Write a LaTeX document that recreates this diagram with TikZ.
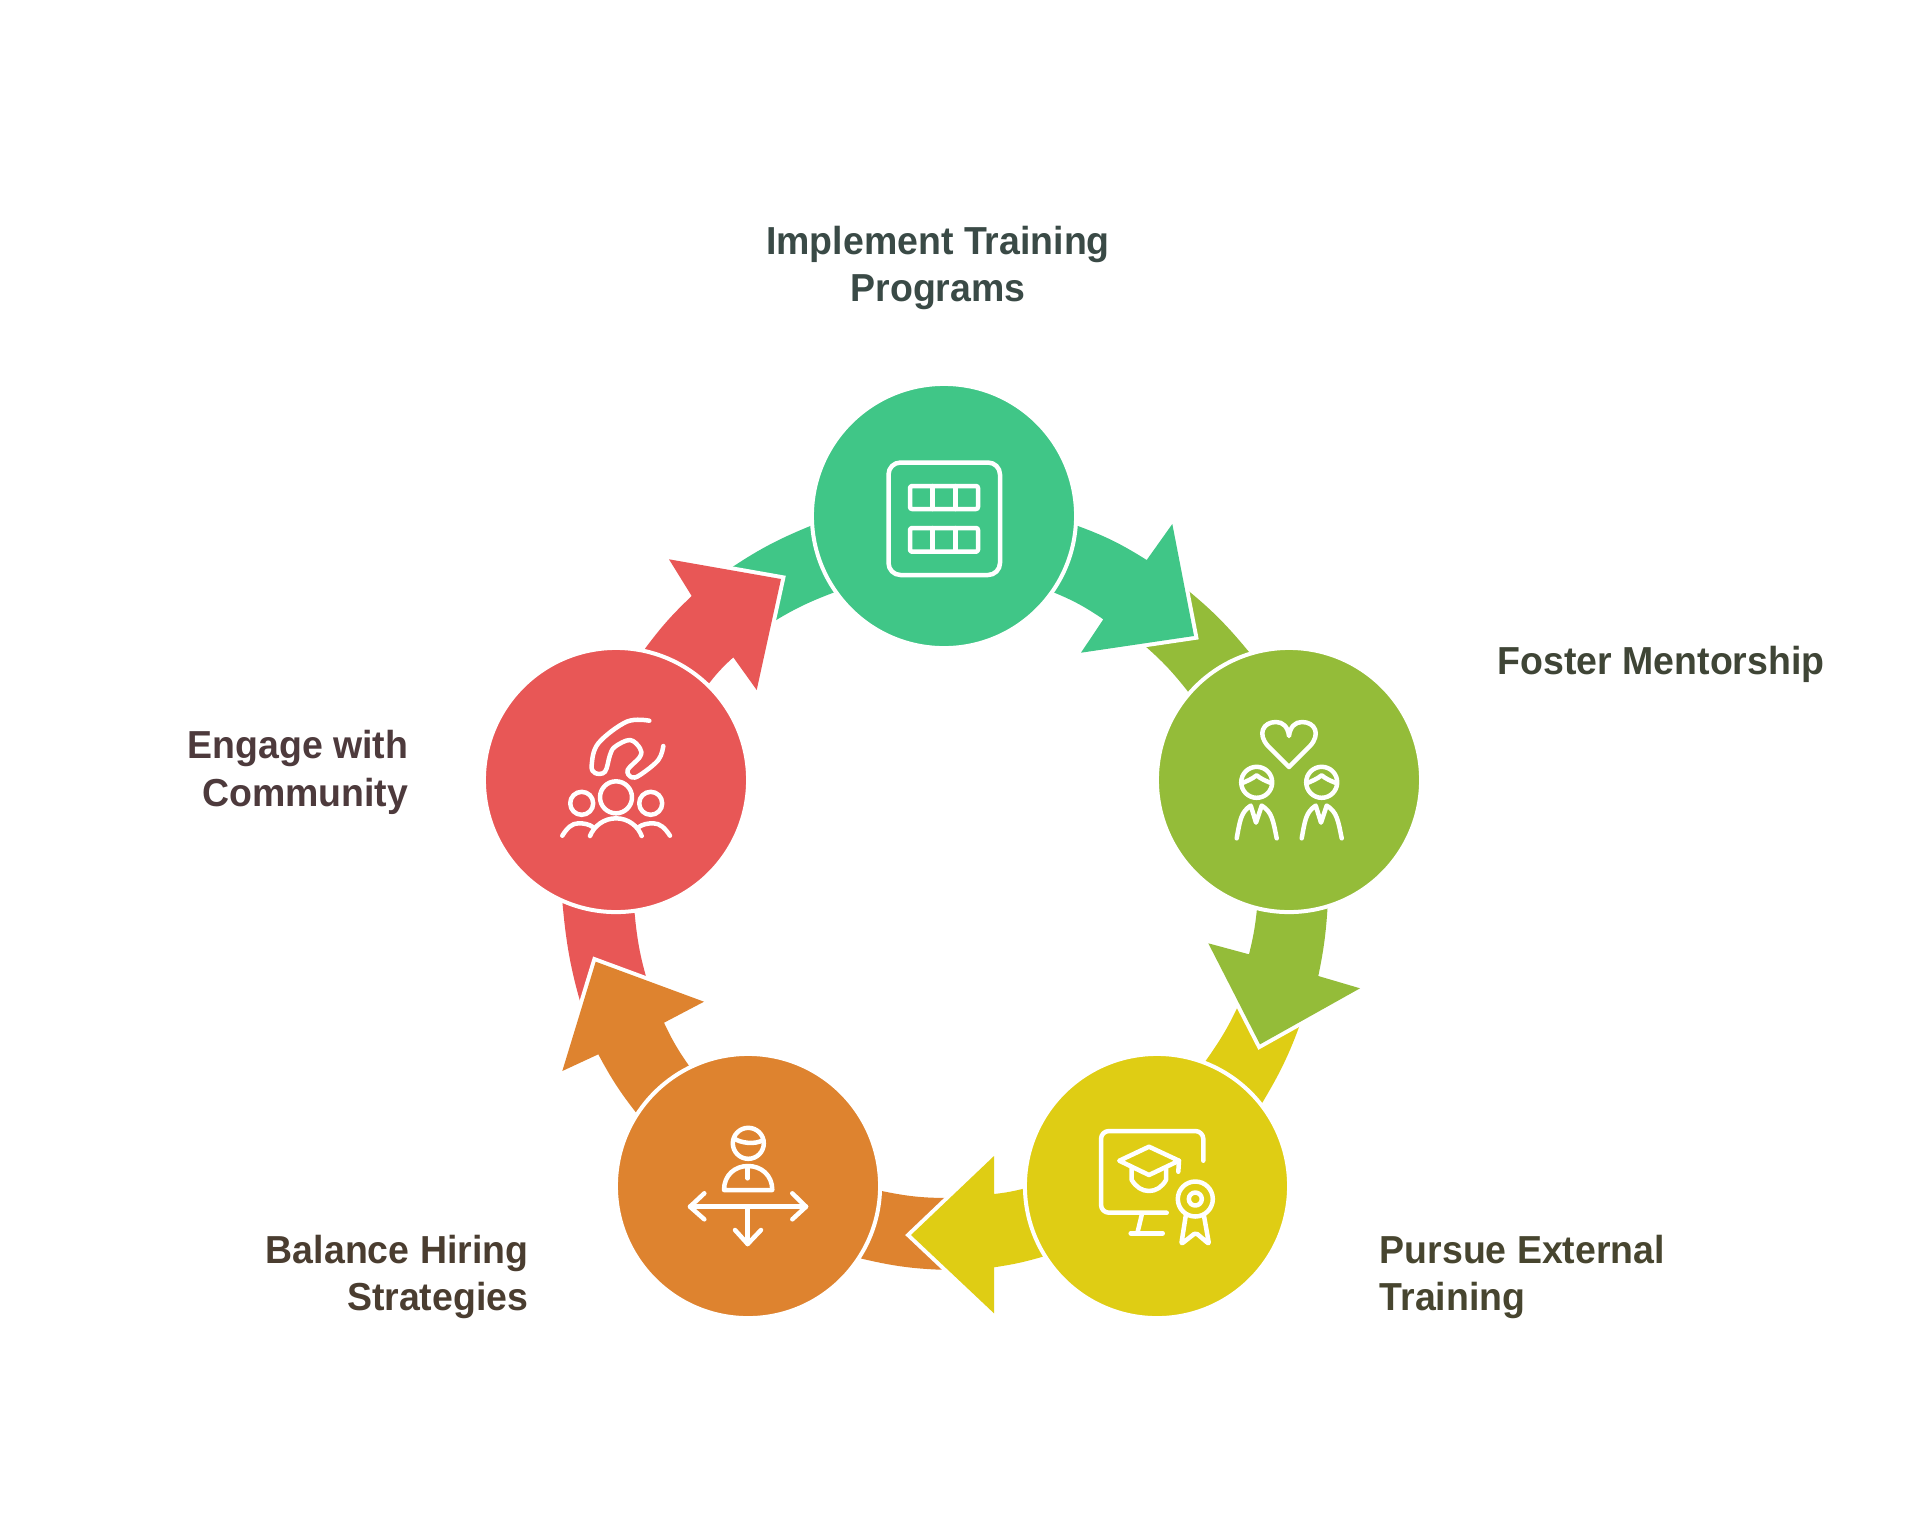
\documentclass[tikz,border=0pt]{standalone}
\usepackage{fontspec}
\setmainfont[FakeStretch=0.96]{Liberation Sans}
\usetikzlibrary{backgrounds}

\definecolor{trainGreen}{HTML}{40C687}
\definecolor{mentorOlive}{HTML}{94BC39}
\definecolor{externalYellow}{HTML}{DFCD14}
\definecolor{hiringOrange}{HTML}{DE832F}
\definecolor{communityRed}{HTML}{E85756}

\tikzset{
  stage/.style={circle,fill=#1,draw=white,line width=0.04cm,minimum size=2.64cm,inner sep=0pt,outer sep=0pt},
  band/.style={fill=#1,preaction={draw=white,line width=0.08cm,line join=miter}},
  icon/.style={draw=white,line width=0.045cm,line cap=round,line join=round},
  caption/.style={inner sep=0pt,font=\bfseries\fontsize{11.1pt}{13.5pt}\selectfont}
}

\begin{document}
\begin{tikzpicture}[x=0.01cm,y=-0.01cm]
  \useasboundingbox (0,0) rectangle (1912,1536);

  % The five stages
  \node[stage=trainGreen] (train) at (944,516) {};
  \node[stage=mentorOlive] (mentor) at (1289,780) {};
  \node[stage=externalYellow] (external) at (1157,1186) {};
  \node[stage=hiringOrange] (hiring) at (748,1186) {};
  \node[stage=communityRed] (community) at (616,780) {};

  \begin{pgfonlayer}{background}
    % Tails coming out of the back of each stage
    \path[band=trainGreen] (725,572) to[bend left=6] (train.184.8) -- (train.215.7) to[bend right=6] (765,627) -- cycle;
    \path[band=mentorOlive] (1180,584) to[bend left=6] (mentor.107.8) -- (mentor.139) to[bend right=6] (1138,640) -- cycle;
    \path[band=externalYellow] (1304,1013) to[bend left=6] (external.38.8) -- (external.69.7) to[bend right=6] (1243,995) -- cycle;
    \path[band=hiringOrange] (950,1270) to[bend left=6] (hiring.-33.8) -- (hiring.-2.9) to[bend right=6] (950,1198) -- cycle;
    \path[band=communityRed] (585,1018) to[bend left=6] (community.-114.3) -- (community.-82.6) to[bend right=6] (650,990) -- cycle;

    % Arrows going on to the next stage
    \path[band=trainGreen] (train.-4.6) to[bend left=6] (1146.7,560) -- (1172.3,524) -- (1194,636) -- (1081,652.7) -- (1103.3,619.3) to[bend right=6] (train.-35.5) -- cycle;
    \path[band=mentorOlive] (mentor.-73.5) to[bend left=4] (1318.3,976) -- (1360,988.3) -- (1260,1044.3) -- (1208.3,943.3) -- (1249,954.3) to[bend right=4] (mentor.-104.7) -- cycle;
    \path[band=externalYellow] (external.-148.3) to[bend left=4] (994,1267.3) -- (994,1313.3) -- (911,1235) -- (994,1156) -- (994,1194) to[bend right=4] (external.181) -- cycle;
    \path[band=hiringOrange] (hiring.147.2) to[bend left=5] (598.3,1054.3) -- (562.3,1071) -- (595.7,961.7) -- (704,1001.7) -- (664,1022.7) to[bend right=5] (hiring.116.4) -- cycle;
    \path[band=communityRed] (community.78.3) to[bend left=5] (691.7,596) -- (669,559.3) -- (781,579) -- (756.7,690) -- (733.3,657.3) to[bend right=5] (community.46.8) -- cycle;
  \end{pgfonlayer}

  % Icon: table in a frame
  \draw[icon,rounded corners=0.12cm] (888.5,462.5) rectangle (1000,575);
  \draw[icon,rounded corners=0.02cm] (910,486) rectangle (978,509);
  \draw[icon,rounded corners=0.02cm] (910,528) rectangle (978,551.7);
  \draw[icon] (932.7,486) -- (932.7,509);
  \draw[icon] (955.7,486) -- (955.7,509);
  \draw[icon] (932.7,528) -- (932.7,551.7);
  \draw[icon] (955.7,528) -- (955.7,551.7);

  % Icon: heart over two people
  \draw[icon] (1289,767) -- (1268,746) .. controls (1257,734) and (1263,722) .. (1276,722) .. controls (1283,722) and (1288,727) .. (1289,736) .. controls (1290,727) and (1295,722) .. (1302,722) .. controls (1315,722) and (1321,734) .. (1310,746) -- cycle;
  \draw[icon] (1256.7,782.3) circle[radius=15.5];
  \draw[icon] (1241.7,783.3) .. controls (1247,781) and (1252,779) .. (1256.7,775.3) .. controls (1261,779) and (1266,781) .. (1271.7,783.3);
  \draw[icon] (1236.7,838.3) .. controls (1240,820) and (1241,812) .. (1250.7,805.6) -- (1256,822.6) -- (1261.7,805.6) .. controls (1272,812) and (1273,820) .. (1276.7,838.3);
  \draw[icon] (1321.7,782.3) circle[radius=15.5];
  \draw[icon] (1306.7,783.3) .. controls (1312,781) and (1317,779) .. (1321.7,775.3) .. controls (1326,779) and (1331,781) .. (1336.7,783.3);
  \draw[icon] (1301.7,838.3) .. controls (1305,820) and (1306,812) .. (1315.7,805.6) -- (1321,822.6) -- (1326.7,805.6) .. controls (1337,812) and (1338,820) .. (1341.7,838.3);

  % Icon: screen, cap and medal
  \draw[icon,rounded corners=0.08cm] (1203.3,1160.7) -- (1203.3,1131) -- (1101,1131) -- (1101,1212.7) -- (1166.7,1212.7);
  \draw[icon] (1141.7,1215) -- (1137.3,1233.3);
  \draw[icon] (1130.7,1233.3) -- (1162.7,1233.3);
  \draw[icon] (1119.3,1160.7) -- (1149,1146.7) -- (1179,1160.7) -- (1149,1175) -- cycle;
  \draw[icon] (1179,1160.7) -- (1178.3,1171.7);
  \draw[icon] (1131.7,1168.3) -- (1131.7,1180) .. controls (1136,1187) and (1142,1191) .. (1149,1191) .. controls (1156,1191) and (1162,1187) .. (1166,1180) -- (1166,1168.3);
  \draw[icon] (1195.3,1199) circle[radius=17.5];
  \draw[icon] (1195.3,1199) circle[radius=6.5];
  \draw[icon,rounded corners=0.02cm] (1185.7,1216) -- (1181.3,1244) -- (1195.7,1232.7) -- (1209,1244) -- (1204,1216);

  % Icon: person with three ways out
  \draw[icon] (748.3,1143.3) circle[radius=15.5];
  \draw[icon] (734,1138.3) .. controls (740,1143) and (755,1145) .. (763.3,1140);
  \draw[icon] (724,1190) .. controls (724,1175) and (735,1166) .. (748,1166) .. controls (761,1166) and (772.3,1175) .. (772.3,1190) -- cycle;
  \draw[icon] (747.7,1167.3) -- (747.7,1178.3);
  \draw[icon] (690,1206.7) -- (806,1206.7);
  \draw[icon] (704.3,1193.3) -- (690,1206.7) -- (704.3,1219.3);
  \draw[icon] (792.3,1193.3) -- (806,1206.7) -- (792.3,1219.3);
  \draw[icon] (747.7,1206.7) -- (747.7,1244);
  \draw[icon] (735,1230) -- (747.7,1244) -- (761,1230);

  % Icon: hand over a group
  \draw[icon] plot[smooth,tension=0.6] coordinates {(649.3,720.7) (626.7,721.7) (598.3,743.3) (591.7,765) (595,773) (605,771.7) (610,755) (615,746.7) (630,740) (640,748.3) (640,756.7) (627.7,770) (631.7,777.3) (640,775) (658.3,760) (663.3,746)};
  \draw[icon] (616,797.3) circle[radius=16];
  \draw[icon] (581.7,803.3) circle[radius=11.5];
  \draw[icon] (650.7,803.3) circle[radius=11.5];
  \draw[icon] (590,836) .. controls (594,826) and (604,818.3) .. (616,818.3) .. controls (628,818.3) and (638,826) .. (641.7,836);
  \draw[icon] (562.3,835.7) .. controls (567,828) and (572,823.3) .. (578.3,823.3) .. controls (584,823.3) and (589,824) .. (593.3,827.3);
  \draw[icon] (670,835.7) .. controls (665,828) and (660,823.3) .. (653.3,823.3) .. controls (648,823.3) and (643,824) .. (638.3,827.3);

  % Labels
  \node[caption,align=center,anchor=base,text={rgb,255:red,58;green,74;blue,70}] (trainText) at (938,301.5) {Implement Training\\Programs};
  \node[caption,align=left,anchor=base west,text={rgb,255:red,63;green,69;blue,54}] (mentorText) at (1497,674) {Foster Mentorship};
  \node[caption,align=left,anchor=base west,text={rgb,255:red,71;green,69;blue,47}] (externalText) at (1379,1310.5) {Pursue External\\Training};
  \node[caption,align=right,anchor=base east,text={rgb,255:red,74;green,61;blue,48}] (hiringText) at (529,1310.5) {Balance Hiring\\Strategies};
  \node[caption,align=right,anchor=base east,text={rgb,255:red,77;green,58;blue,60}] (communityText) at (409,806) {Engage with\\Community};
\end{tikzpicture}
\end{document}
